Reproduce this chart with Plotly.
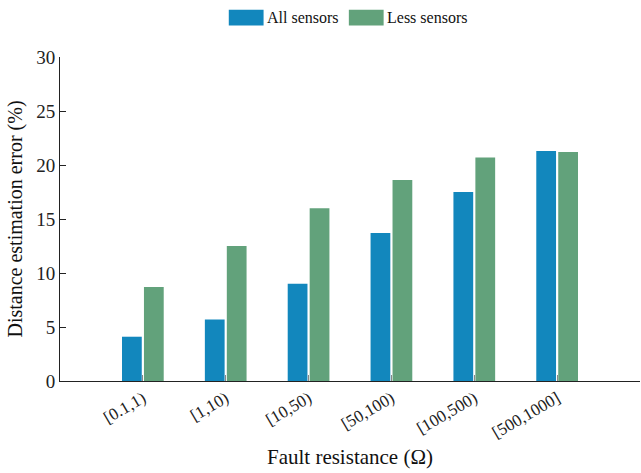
import plotly.graph_objects as go

categories = ["[0.1,1)", "[1,10)", "[10,50)", "[50,100)", "[100,500)", "[500,1000]"]
all_sensors = [4.1, 5.7, 9.0, 13.7, 17.5, 21.3]
less_sensors = [8.7, 12.5, 16.0, 18.6, 20.7, 21.2]
series_names = ["All sensors", "Less sensors"]
colors = ["#1287BD", "#62A27B"]

FONT = "Liberation Serif"

fig = go.Figure()
for name, vals, c in zip(series_names, [all_sensors, less_sensors], colors):
    fig.add_trace(go.Bar(x=list(range(len(categories))), y=vals, name=name,
                         marker=dict(color=c, line=dict(width=0)), showlegend=False))

# custom legend
legend_items = [(0.291, "All sensors", colors[0]), (0.498, "Less sensors", colors[1])]
for x0, txt, c in legend_items:
    fig.add_shape(type="rect", xref="paper", yref="paper", x0=x0, x1=x0 + 0.06,
                  y0=1.097, y1=1.146, fillcolor=c, line=dict(width=0))
    fig.add_annotation(xref="paper", yref="paper", x=x0 + 0.062, y=1.122, text=txt,
                       showarrow=False, xanchor="left", yanchor="middle",
                       font=dict(family=FONT, size=16, color="#111"))

fig.update_layout(
    width=641, height=473,
    margin=dict(l=60, r=1, t=57, b=92),
    plot_bgcolor="white", paper_bgcolor="white",
    barmode="group", bargap=0.47, bargroupgap=0.1,
    font=dict(family=FONT, size=15, color="#222"),
    xaxis=dict(
        range=[-1, 6], tickmode="array", tickvals=list(range(len(categories))),
        ticktext=categories, tickangle=-30, ticks="inside", ticklen=6, tickcolor="#888",
        showline=True, linecolor="#222", linewidth=1, showgrid=False, zeroline=False,
        tickfont=dict(family=FONT, size=17, color="#222"),
        title=dict(text="Fault resistance (Ω)", font=dict(family=FONT, size=21, color="#111"), standoff=8),
    ),
    yaxis=dict(
        range=[0, 30], tickvals=[0, 5, 10, 15, 20, 25, 30], ticks="inside", ticklen=6,
        tickcolor="#222", showline=True, linecolor="#222", linewidth=1, showgrid=False,
        zeroline=False, tickfont=dict(family=FONT, size=19, color="#222"),
        title=dict(text="Distance estimation error (%)", font=dict(family=FONT, size=20, color="#111"), standoff=8),
    ),
)

fig.write_html("out.html")
